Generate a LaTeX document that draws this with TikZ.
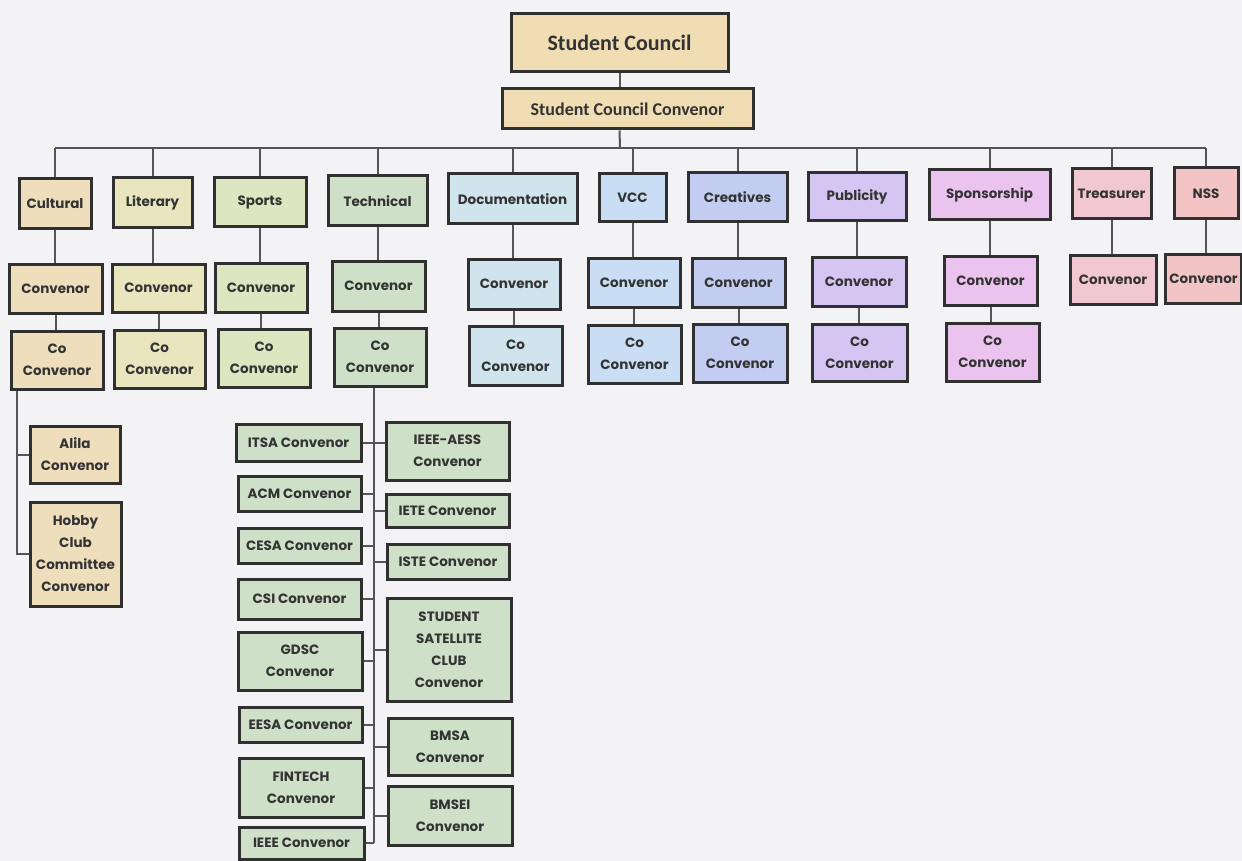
\documentclass[tikz,border=0pt]{standalone}
\usepackage{fontspec}
\newfontfamily\pop{Poppins}
\newfontfamily\carl{Carlito}
\definecolor{bg}{HTML}{F3F3F5}
\definecolor{tan}{HTML}{F0DDB3}
\definecolor{cul}{HTML}{EFDEBC}
\definecolor{lit}{HTML}{E9E6BF}
\definecolor{spo}{HTML}{DCE6C0}
\definecolor{tec}{HTML}{CFE0C8}
\definecolor{doc}{HTML}{CFE4EC}
\definecolor{vcc}{HTML}{C9DDF4}
\definecolor{cre}{HTML}{C3CDF2}
\definecolor{pub}{HTML}{D5C5F2}
\definecolor{spn}{HTML}{EBC3EF}
\definecolor{tre}{HTML}{F2C7D4}
\definecolor{nss}{HTML}{F3C4C6}
\definecolor{ink}{HTML}{333333}
\definecolor{edge}{HTML}{303030}
\definecolor{wire}{HTML}{555555}
\tikzset{
  box/.style={draw=edge, line width=3pt, inner sep=0pt, align=center, text=ink,
    font=\pop\bfseries\fontsize{13.5}{22}\selectfont},
  topbox/.style={box, font=\carl\bfseries\fontsize{22}{26}\selectfont},
  wirel/.style={draw=wire, line width=2pt},
}
\begin{document}
\begin{tikzpicture}[x=1pt,y=-1pt]
\useasboundingbox (0,0) rectangle (1242,861);
\fill[bg] (0,0) rectangle (1242,861);

% top
\node[topbox, fill=tan, minimum width=217pt, minimum height=58pt] (sc) at (619.5,43) {Student Council};
\node[topbox, fill=tan, minimum width=251pt, minimum height=40pt, font=\carl\bfseries\fontsize{18}{22}\selectfont] (scc) at (627.5,109) {Student Council Convenor};

% departments
\node[box, fill=cul, minimum width=72pt, minimum height=50pt] (d1) at (55,204) {Cultural};
\node[box, fill=lit, minimum width=79pt, minimum height=50pt] (d2) at (152.5,203) {Literary};
\node[box, fill=spo, minimum width=92pt, minimum height=49pt] (d3) at (260,202.5) {Sports};
\node[box, fill=tec, minimum width=99pt, minimum height=50pt] (d4) at (377.5,201) {Technical};
\node[box, fill=doc, minimum width=129pt, minimum height=50pt] (d5) at (512.5,199) {Documentation};
\node[box, fill=vcc, minimum width=67pt, minimum height=48pt] (d6) at (632.5,198) {VCC};
\node[box, fill=cre, minimum width=99pt, minimum height=49pt] (d7) at (737.5,197.5) {Creatives};
\node[box, fill=pub, minimum width=98pt, minimum height=48pt] (d8) at (857,197) {Publicity};
\node[box, fill=spn, minimum width=121pt, minimum height=50pt] (d9) at (989.5,195) {Sponsorship};
\node[box, fill=tre, minimum width=79pt, minimum height=50pt] (d10) at (1111.5,194) {Treasurer};
\node[box, fill=nss, minimum width=64pt, minimum height=51pt] (d11) at (1206,193.5) {NSS};

% convenors
\node[box, fill=cul, minimum width=93pt, minimum height=49pt] (c1) at (55.5,288.5) {Convenor};
\node[box, fill=lit, minimum width=93pt, minimum height=48pt] (c2) at (158.5,288) {Convenor};
\node[box, fill=spo, minimum width=92pt, minimum height=49pt] (c3) at (261,287.5) {Convenor};
\node[box, fill=tec, minimum width=93pt, minimum height=50pt] (c4) at (378.5,286) {Convenor};
\node[box, fill=doc, minimum width=92pt, minimum height=50pt] (c5) at (514,284) {Convenor};
\node[box, fill=vcc, minimum width=92pt, minimum height=49pt] (c6) at (634,282.5) {Convenor};
\node[box, fill=cre, minimum width=93pt, minimum height=49pt] (c7) at (738.5,282.5) {Convenor};
\node[box, fill=pub, minimum width=94pt, minimum height=49pt] (c8) at (859,281.5) {Convenor};
\node[box, fill=spn, minimum width=93pt, minimum height=49pt] (c9) at (990.5,280.5) {Convenor};
\node[box, fill=tre, minimum width=86pt, minimum height=49pt] (c10) at (1113,279.5) {Convenor};
\node[box, fill=nss, minimum width=76pt, minimum height=49pt] (c11) at (1203.5,278.5) {Convenor};

% co convenors
\node[box, fill=cul, minimum width=92pt, minimum height=58pt] (k1) at (57,360) {Co\\Convenor};
\node[box, fill=lit, minimum width=91pt, minimum height=58pt] (k2) at (159.5,359) {Co\\Convenor};
\node[box, fill=spo, minimum width=92pt, minimum height=58pt] (k3) at (264,358) {Co\\Convenor};
\node[box, fill=tec, minimum width=92pt, minimum height=58pt] (k4) at (380,357) {Co\\Convenor};
\node[box, fill=doc, minimum width=93pt, minimum height=59pt] (k5) at (515.5,355.5) {Co\\Convenor};
\node[box, fill=vcc, minimum width=93pt, minimum height=58pt] (k6) at (634.5,354) {Co\\Convenor};
\node[box, fill=cre, minimum width=94pt, minimum height=58pt] (k7) at (740,353) {Co\\Convenor};
\node[box, fill=pub, minimum width=95pt, minimum height=57pt] (k8) at (859.5,352.5) {Co\\Convenor};
\node[box, fill=spn, minimum width=93pt, minimum height=58pt] (k9) at (992.5,352) {Co\\Convenor};

% cultural sub boxes
\node[box, fill=cul, minimum width=90pt, minimum height=57pt] (alila) at (75,454.5) {Alila\\Convenor};
\node[box, fill=cul, minimum width=91pt, minimum height=104pt] (hobby) at (75.5,554) {Hobby\\Club\\Committee\\Convenor};

% technical sub boxes
\node[box, fill=tec, minimum width=125pt, minimum height=37pt] (itsa) at (298.5,442.5) {ITSA Convenor};
\node[box, fill=tec, minimum width=123pt, minimum height=58pt] (aess) at (447.5,451) {IEEE-AESS\\Convenor};
\node[box, fill=tec, minimum width=123pt, minimum height=35pt] (acm) at (299.5,493.5) {ACM Convenor};
\node[box, fill=tec, minimum width=123pt, minimum height=33pt] (iete) at (447.5,510.5) {IETE Convenor};
\node[box, fill=tec, minimum width=123pt, minimum height=35pt] (cesa) at (299.5,545.5) {CESA Convenor};
\node[box, fill=tec, minimum width=122pt, minimum height=35pt] (iste) at (448,561.5) {ISTE Convenor};
\node[box, fill=tec, minimum width=123pt, minimum height=40pt] (csi) at (299.5,599) {CSI Convenor};
\node[box, fill=tec, minimum width=124pt, minimum height=103pt] (ssc) at (449,649.5) {STUDENT\\SATELLITE\\CLUB\\Convenor};
\node[box, fill=tec, minimum width=124pt, minimum height=58pt] (gdsc) at (300,661) {GDSC\\Convenor};
\node[box, fill=tec, minimum width=123pt, minimum height=35pt] (eesa) at (300.5,724.5) {EESA Convenor};
\node[box, fill=tec, minimum width=124pt, minimum height=57pt] (bmsa) at (450,746.5) {BMSA\\Convenor};
\node[box, fill=tec, minimum width=124pt, minimum height=59pt] (fin) at (301,787.5) {FINTECH\\Convenor};
\node[box, fill=tec, minimum width=124pt, minimum height=59pt] (bmsei) at (450,815.5) {BMSEI\\Convenor};
\node[box, fill=tec, minimum width=125pt, minimum height=32pt] (ieee) at (301.5,843) {IEEE Convenor};

% helper coordinates
\coordinate (bus) at (620,148);
\coordinate (ts) at (374,387);
\coordinate (cs) at (17,390);

% connectors top
\draw[wirel] (sc.south) -- (sc.south |- scc.north);
\draw[wirel] (sc.south |- scc.south) -- (bus);
\draw[wirel] (d1.north |- bus) -- (d11.north |- bus);
\foreach \n in {1,...,11}{
  \draw[wirel] (d\n.north) -- (d\n.north |- bus);
  \draw[wirel] (d\n.south) -- (d\n.south |- c\n.north);
}
\foreach \n in {1,...,9}{
  \draw[wirel] (c\n.south) -- (c\n.south |- k\n.north);
}

% cultural branch
\draw[wirel] (k1.south -| cs) |- (hobby.west);
\draw[wirel] (alila.west) -- (alila.west -| cs);

% technical branch
\draw[wirel] (k4.south -| ts) -- (ieee.east -| ts);
\foreach \b in {itsa,acm,cesa,csi,gdsc,eesa,fin,ieee}{
  \draw[wirel] (\b.east) -- (\b.east -| ts);
}
\foreach \b in {iete,iste,ssc,bmsa,bmsei}{
  \draw[wirel] (\b.west) -- (\b.west -| ts);
}
\draw[wirel] (aess.west |- itsa.east) -- (itsa.east -| ts);
\end{tikzpicture}
\end{document}
